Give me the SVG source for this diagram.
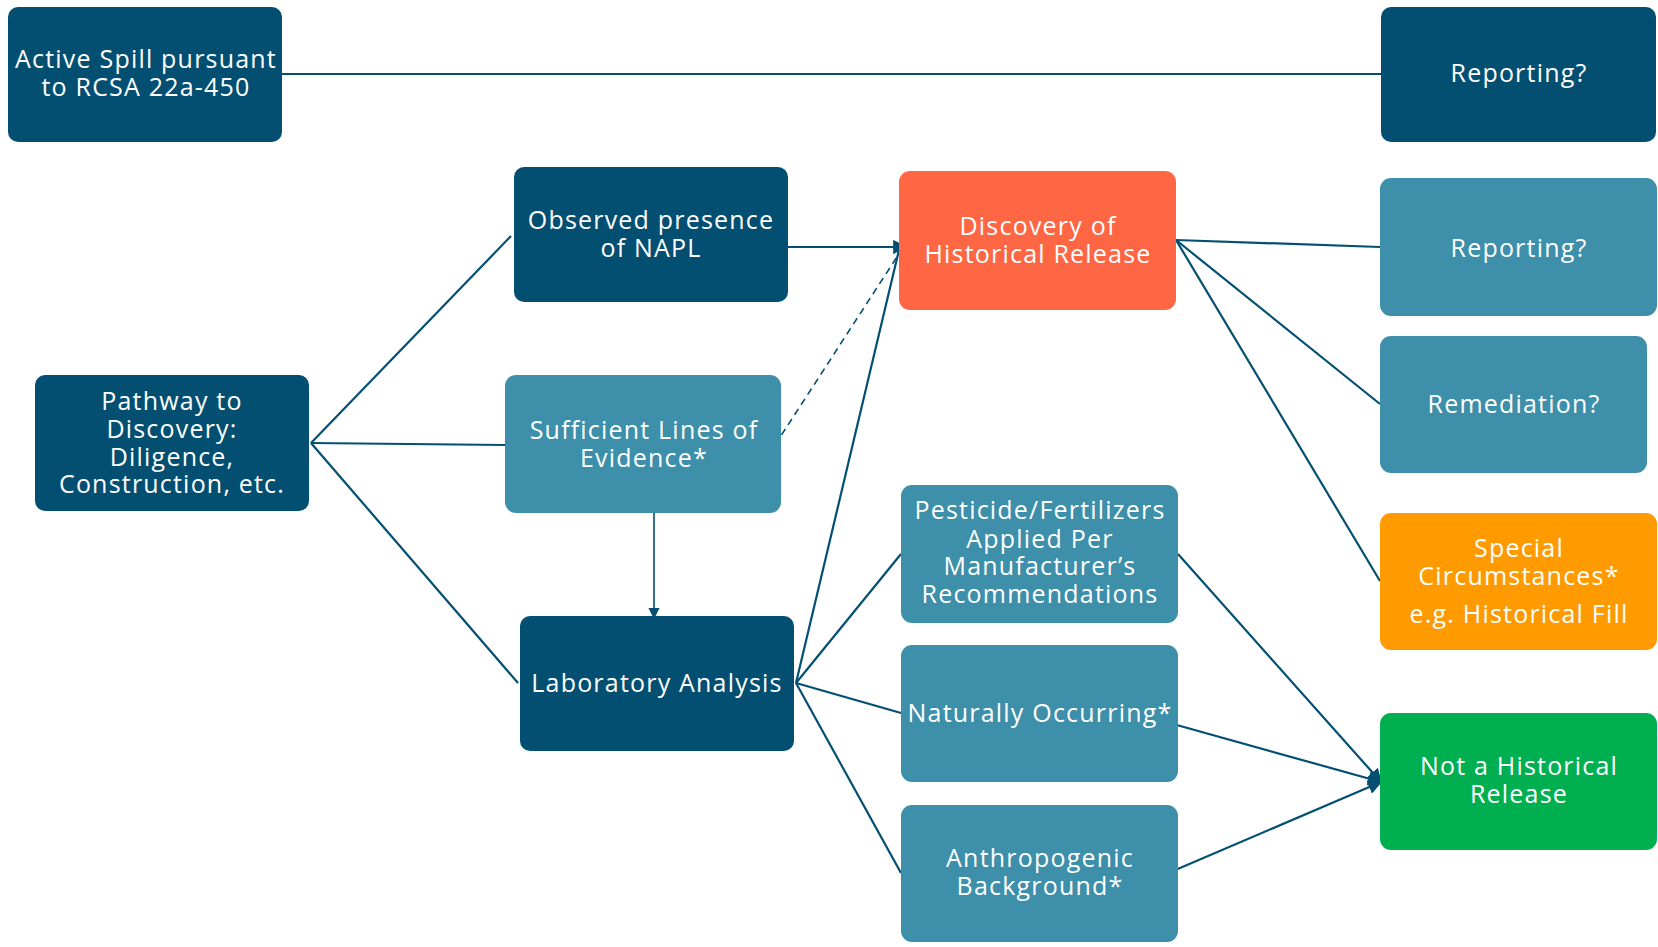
<svg xmlns="http://www.w3.org/2000/svg" width="1658" height="947" viewBox="0 0 1658 947">
<defs>
<style>
.n rect{stroke:none}
.dark{fill:#034F72}
.teal{fill:#3D8FAA}
.red{fill:#FF6644}
.orange{fill:#FF9A00}
.green{fill:#00B050}
text{font-family:"Open Sans","DejaVu Sans",sans-serif;font-size:25px;letter-spacing:1.2px;fill:#ffffff;text-anchor:middle}
.c line{stroke:#034F72;stroke-width:2.2;fill:none}
.c .dash{stroke-dasharray:7,5;stroke-width:1.6}
.c .thin{stroke-width:1.6}
</style>
<marker id="ah" viewBox="0 0 10 10" refX="9" refY="5" markerWidth="6.5" markerHeight="6.5" orient="auto" markerUnits="strokeWidth">
<path d="M0,0 L10,5 L0,10 z" fill="#034F72"/>
</marker>
<marker id="ahs" viewBox="0 0 10 10" refX="9" refY="5" markerWidth="7" markerHeight="7" orient="auto" markerUnits="strokeWidth">
<path d="M0,0 L10,5 L0,10 z" fill="#034F72"/>
</marker>
</defs>
<rect width="1658" height="947" fill="#ffffff"/>
<g id="connectors" class="c">
<line x1="282" y1="74" x2="1381" y2="74"/>
<line x1="311" y1="443" x2="511" y2="236"/>
<line x1="311" y1="443" x2="505" y2="445"/>
<line x1="311" y1="443" x2="518" y2="683"/>
<line x1="788" y1="247" x2="906" y2="247" marker-end="url(#ah)"/>
<line class="dash" x1="775" y1="445" x2="904" y2="246"/>
<line class="thin" x1="654" y1="513" x2="654" y2="618" marker-end="url(#ahs)"/>
<line x1="796" y1="683" x2="899" y2="250"/>
<line x1="796" y1="683" x2="901" y2="554"/>
<line x1="796" y1="683" x2="901" y2="713"/>
<line x1="796" y1="683" x2="901" y2="873"/>
<line x1="1176" y1="240" x2="1380" y2="247"/>
<line x1="1176" y1="240" x2="1380" y2="404"/>
<line x1="1176" y1="240" x2="1380" y2="581"/>
<line x1="1178" y1="554" x2="1381" y2="782" marker-end="url(#ah)"/>
<line x1="1166" y1="722" x2="1381" y2="782" marker-end="url(#ah)"/>
<line x1="1166" y1="874" x2="1381" y2="782" marker-end="url(#ah)"/>
</g>
<g id="active-spill" class="n"><rect class="dark" x="8" y="7" width="274" height="135" rx="10"/><text x="146" y="68">Active Spill pursuant</text><text x="146" y="96">to RCSA 22a-450</text></g>
<g id="reporting-top" class="n"><rect class="dark" x="1381" y="7" width="275" height="135" rx="10"/><text x="1519" y="82">Reporting?</text></g>
<g id="observed-napl" class="n"><rect class="dark" x="514" y="167" width="274" height="135" rx="10"/><text x="651" y="229">Observed presence</text><text x="651" y="257">of NAPL</text></g>
<g id="discovery" class="n"><rect class="red" x="899" y="171" width="277" height="139" rx="11"/><text x="1038" y="235">Discovery of</text><text x="1038" y="263">Historical Release</text></g>
<g id="reporting" class="n"><rect class="teal" x="1380" y="178" width="277" height="138" rx="11"/><text x="1519" y="257">Reporting?</text></g>
<g id="remediation" class="n"><rect class="teal" x="1380" y="336" width="267" height="137" rx="11"/><text x="1514" y="413">Remediation?</text></g>
<g id="special" class="n"><rect class="orange" x="1380" y="513" width="277" height="137" rx="11"/><text x="1519" y="557">Special</text><text x="1519" y="585">Circumstances*</text><text x="1519" y="623">e.g. Historical Fill</text></g>
<g id="pathway" class="n"><rect class="dark" x="35" y="375" width="274" height="136" rx="10"/><text x="172" y="410">Pathway to</text><text x="172" y="438">Discovery:</text><text x="172" y="466">Diligence,</text><text x="172" y="493">Construction, etc.</text></g>
<g id="sufficient" class="n"><rect class="teal" x="505" y="375" width="276" height="138" rx="11"/><text x="644" y="439">Sufficient Lines of</text><text x="644" y="467">Evidence*</text></g>
<g id="laboratory" class="n"><rect class="dark" x="520" y="616" width="274" height="135" rx="10"/><text x="657" y="692">Laboratory Analysis</text></g>
<g id="pesticide" class="n"><rect class="teal" x="901" y="485" width="277" height="138" rx="11"/><text x="1040" y="519">Pesticide/Fertilizers</text><text x="1040" y="548">Applied Per</text><text x="1040" y="575">Manufacturer’s</text><text x="1040" y="603">Recommendations</text></g>
<g id="naturally" class="n"><rect class="teal" x="901" y="645" width="277" height="137" rx="11"/><text x="1040" y="722">Naturally Occurring*</text></g>
<g id="anthropogenic" class="n"><rect class="teal" x="901" y="805" width="277" height="137" rx="11"/><text x="1040" y="867">Anthropogenic</text><text x="1040" y="895">Background*</text></g>
<g id="not-historical" class="n"><rect class="green" x="1380" y="713" width="277" height="137" rx="11"/><text x="1519" y="775">Not a Historical</text><text x="1519" y="803">Release</text></g>
</svg>
